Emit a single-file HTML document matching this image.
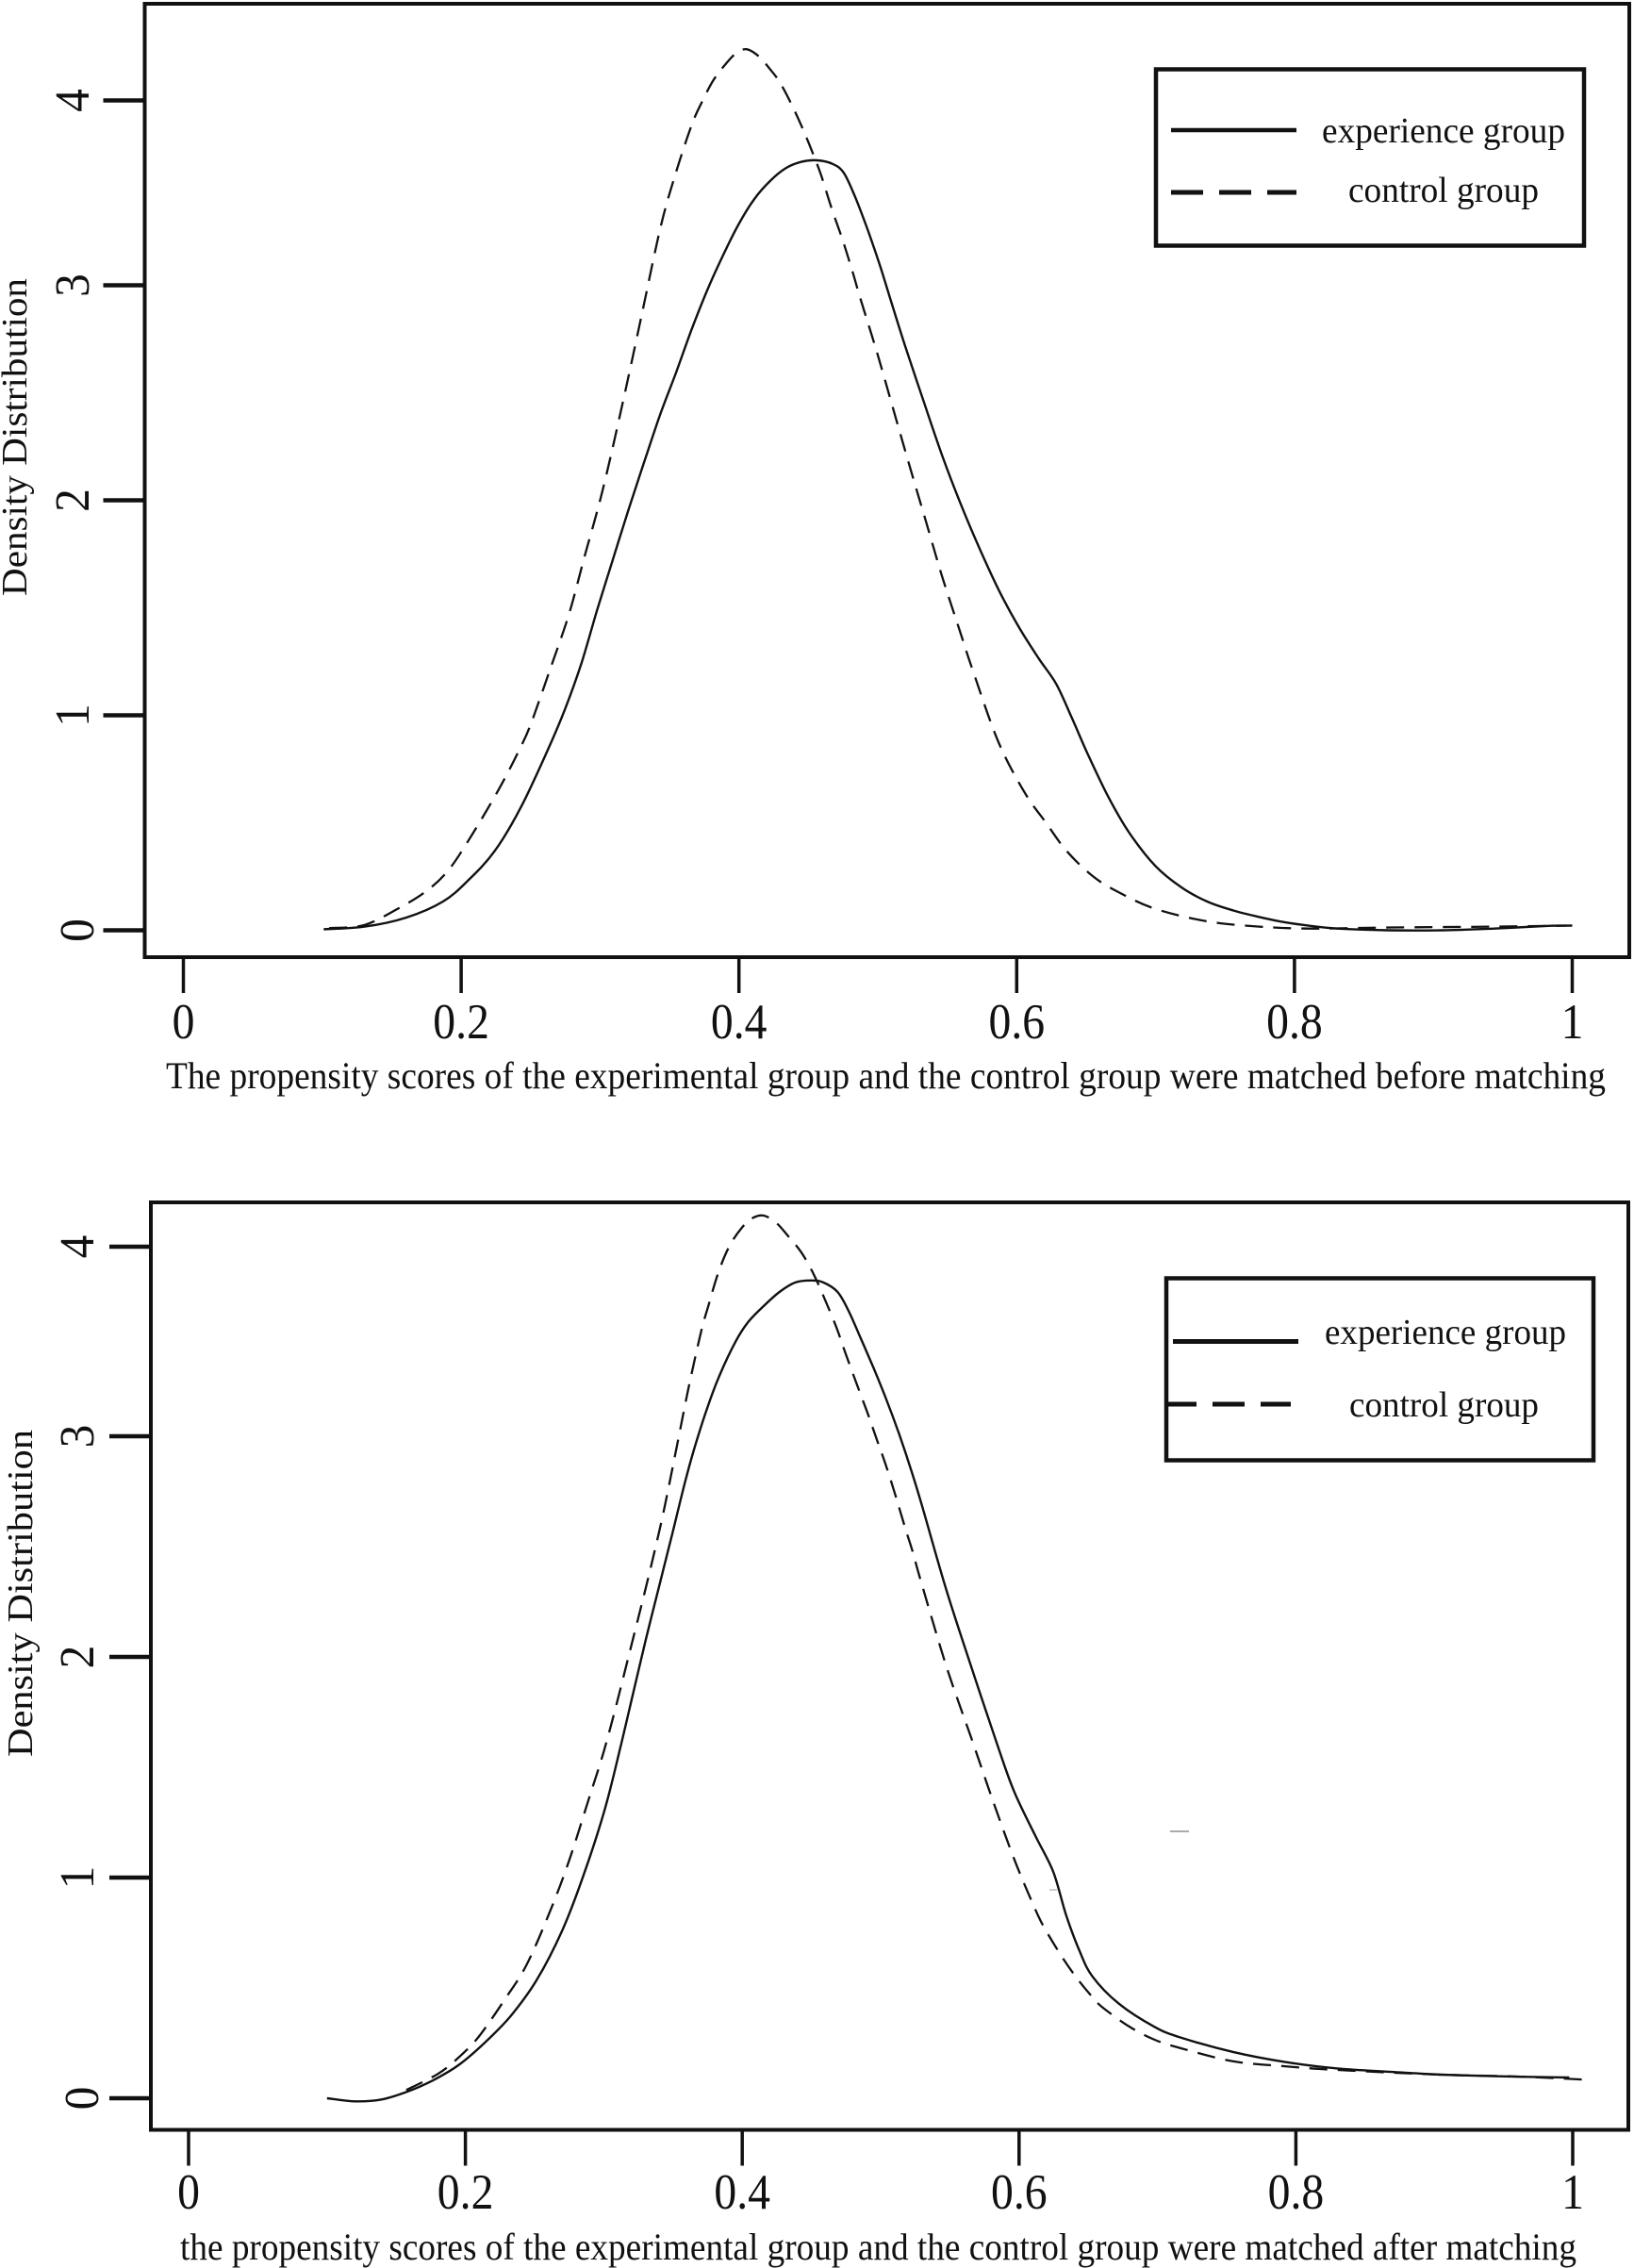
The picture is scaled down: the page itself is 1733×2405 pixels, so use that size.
<!DOCTYPE html>
<html lang="en">
<head>
<meta charset="utf-8">
<title>Propensity score density before and after matching</title>
<style>
  html, body { margin: 0; padding: 0; background: #fff; }
  svg { display: block; }
  text { font-family: "Liberation Serif", serif; fill: #111; }
</style>
</head>
<body>
<svg id="figure" xmlns="http://www.w3.org/2000/svg" width="1733" height="2405" viewBox="0 0 1733 2405">
  <rect x="0" y="0" width="1733" height="2405" fill="#fff"/>

  <g>
    <rect x="1226" y="73.5" width="454" height="187" fill="none" stroke="#111" stroke-width="4.5"/>
    <line x1="1242" y1="138" x2="1375" y2="138" stroke="#111" stroke-width="4.5"/>
    <text x="1402" y="151" font-size="38" textLength="258" lengthAdjust="spacingAndGlyphs">experience group</text>
    <line x1="1242" y1="204" x2="1375" y2="204" stroke="#111" stroke-width="5" stroke-dasharray="34 17"/>
    <text x="1430" y="214" font-size="38" textLength="202" lengthAdjust="spacingAndGlyphs">control group</text>
  </g>

  <g>
    <rect x="1237" y="1355.5" width="453" height="193" fill="none" stroke="#111" stroke-width="4.5"/>
    <line x1="1244" y1="1422.5" x2="1377" y2="1422.5" stroke="#111" stroke-width="5"/>
    <text x="1405" y="1425" font-size="38" textLength="256" lengthAdjust="spacingAndGlyphs">experience group</text>
    <line x1="1235" y1="1489" x2="1369" y2="1489" stroke="#111" stroke-width="5" stroke-dasharray="34 17"/>
    <text x="1431" y="1502" font-size="38" textLength="201" lengthAdjust="spacingAndGlyphs">control group</text>
  </g>

  <text transform="translate(28,632) rotate(-90)" font-size="38" textLength="337" lengthAdjust="spacingAndGlyphs">Density Distribution</text>
  <text x="176" y="1154" font-size="40" textLength="1527" lengthAdjust="spacingAndGlyphs">The propensity scores of the experimental group and the control group were matched before matching</text>

  <text transform="translate(34,1863) rotate(-90)" font-size="38" textLength="347" lengthAdjust="spacingAndGlyphs">Density Distribution</text>
  <text x="191" y="2396" font-size="40" textLength="1481" lengthAdjust="spacingAndGlyphs">the propensity scores of the experimental group and the control group were matched after matching</text>

  <line x1="1241" y1="1942" x2="1261" y2="1942" stroke="#aaa" stroke-width="2"/>
  <line x1="1113" y1="2004" x2="1121" y2="2004" stroke="#bbb" stroke-width="1.5"/>
</svg>

<script>
const xTickValues = [0, 0.2, 0.4, 0.6, 0.8, 1];
const xTickLabels = ["0", "0.2", "0.4", "0.6", "0.8", "1"];
const yTickValues = [0, 1, 2, 3, 4];
const yTickLabels = ["0", "1", "2", "3", "4"];

const beforeExperienceX = [.101,.1305,.1605,.187,.2055,.2243,.243,.2629,.2753,.2866,.2979,.3092,.3206,.3318,.3432,.3545,.3658,.3771,.3885,.3997,.4111,.4224,.4337,.445,.4563,.4676,.4755,.4835,.4925,.5016,.5107,.5197,.5333,.5468,.5604,.574,.5875,.6012,.6159,.6285,.6396,.651,.666,.681,.6997,.7185,.737,.756,.7747,.7935,.812,.831,.8685,.906,.9435,.981,1.0];
const beforeExperienceY = [.005,.017,.059,.134,.235,.37,.572,.847,1.037,1.242,1.49,1.724,1.958,2.178,2.397,2.59,2.792,2.976,3.161,3.329,3.467,3.564,3.633,3.668,3.676,3.656,3.608,3.481,3.304,3.105,2.901,2.717,2.454,2.2,1.971,1.765,1.577,1.414,1.264,1.145,.99,.822,.62,.454,.3,.2,.134,.092,.062,.037,.02,.008,0,0,.008,.02,.022];

const beforeControlX = [.105,.1305,.1568,.1755,.1905,.2055,.2266,.2413,.25,.264,.2775,.2889,.3013,.3149,.3296,.3432,.3534,.3658,.3737,.3817,.3907,.3975,.4054,.4145,.4224,.4292,.4371,.445,.4507,.4586,.4665,.4744,.4812,.4869,.4993,.5107,.5224,.5344,.5464,.5593,.5684,.587,.606,.6208,.6358,.6547,.6734,.6997,.737,.7747,.812,.8685,.9435,.996];
const beforeControlY = [.01,.025,.109,.185,.277,.42,.65,.832,.957,1.213,1.468,1.739,2.032,2.411,2.85,3.302,3.58,3.863,3.997,4.11,4.199,4.252,4.277,4.237,4.169,4.101,3.991,3.863,3.761,3.608,3.421,3.251,3.089,2.95,2.69,2.433,2.17,1.907,1.644,1.388,1.208,.873,.638,.503,.37,.252,.177,.1,.042,.017,.008,.013,.017,.022];

const afterExperienceX = [.1,.1197,.1385,.1573,.1762,.195,.2137,.2326,.2514,.2702,.2853,.3003,.3116,.321,.3304,.3406,.3497,.3588,.3656,.3747,.3837,.3951,.4042,.4155,.4269,.4382,.4496,.4587,.4689,.4768,.4859,.495,.5041,.5132,.5223,.5302,.5477,.5665,.5854,.5967,.6117,.6247,.634,.6437,.653,.672,.698,.7173,.755,.7923,.83,.8677,.9053,.943,.9975];
const afterExperienceY = [0,-.014,-.007,.028,.08,.15,.25,.372,.535,.764,1.01,1.3,1.58,1.83,2.08,2.336,2.564,2.795,2.949,3.149,3.323,3.498,3.602,3.687,3.761,3.811,3.822,3.811,3.761,3.662,3.512,3.358,3.194,3.015,2.842,2.679,2.299,1.936,1.581,1.386,1.19,1.026,.83,.667,.552,.429,.323,.274,.209,.164,.135,.12,.107,.1,.094];

const afterControlX = [.1573,.18,.195,.21,.229,.2438,.259,.274,.289,.3022,.319,.3326,.3429,.352,.361,.3701,.3758,.3826,.3905,.3997,.4075,.4155,.4246,.4337,.4428,.4518,.4598,.4678,.4746,.4825,.4905,.4973,.5041,.5109,.5177,.5234,.5291,.5477,.5665,.5817,.5967,.6097,.6176,.6306,.6417,.6535,.6607,.6795,.698,.7173,.755,.7923,.83,.9053,.962,1.0066];
const afterControlY = [.037,.11,.184,.282,.453,.6,.814,1.06,1.354,1.62,2.03,2.372,2.65,2.93,3.247,3.546,3.695,3.861,4.0,4.1,4.151,4.164,4.126,4.051,3.969,3.852,3.72,3.579,3.438,3.28,3.123,2.984,2.863,2.728,2.585,2.471,2.343,1.953,1.615,1.338,1.08,.885,.78,.645,.545,.455,.41,.325,.265,.226,.167,.145,.128,.107,.098,.085];

const SVG_NS = "http://www.w3.org/2000/svg";
const figure = document.getElementById("figure");

function makeXScale(origin, unit) {
  return function (v) { return origin + unit * v; };
}

// The printed y axis is compressed between 3 and 4, so the scale has two segments.
function makeYScale(origin, unit, upperUnit) {
  return function (v) {
    return v <= 3 ? origin - unit * v : origin - 3 * unit - upperUnit * (v - 3);
  };
}

function smoothPath(xs, ys, sx, sy) {
  const p = xs.map(function (x, i) { return [sx(x), sy(ys[i])]; });
  let d = "M" + p[0][0].toFixed(1) + " " + p[0][1].toFixed(1);
  for (let i = 0; i < p.length - 1; i++) {
    const a = p[Math.max(i - 1, 0)], b = p[i], c = p[i + 1], e = p[Math.min(i + 2, p.length - 1)];
    const c1x = b[0] + (c[0] - a[0]) / 6, c1y = b[1] + (c[1] - a[1]) / 6;
    const c2x = c[0] - (e[0] - b[0]) / 6, c2y = c[1] - (e[1] - b[1]) / 6;
    d += "C" + c1x.toFixed(1) + " " + c1y.toFixed(1) + " " + c2x.toFixed(1) + " " + c2y.toFixed(1) + " " + c[0].toFixed(1) + " " + c[1].toFixed(1);
  }
  return d;
}

function drawPanel(cfg) {
  const sx = makeXScale(cfg.xOrigin, cfg.xUnit);
  const sy = makeYScale(cfg.yOrigin, cfg.yUnit, cfg.yUpperUnit);

  const frame = document.createElementNS(SVG_NS, "rect");
  
  
  frame.setAttribute("x", cfg.left);
  frame.setAttribute("y", cfg.top);
  frame.setAttribute("width", cfg.right - cfg.left);
  frame.setAttribute("height", cfg.bottom - cfg.top);
  frame.setAttribute("fill", "none");
  frame.setAttribute("stroke", "#111");
  frame.setAttribute("stroke-width", "4");
  figure.appendChild(frame);

  xTickValues.forEach(function (v, i) {
    const tick = document.createElementNS(SVG_NS, "line");
    
    
    tick.setAttribute("x1", sx(v));
    tick.setAttribute("x2", sx(v));
    tick.setAttribute("y1", cfg.bottom);
    tick.setAttribute("y2", cfg.bottom + 38);
    tick.setAttribute("stroke", "#111");
    tick.setAttribute("stroke-width", "3.5");
    figure.appendChild(tick);

    const label = document.createElementNS(SVG_NS, "text");
    
    
    label.setAttribute("transform", "translate(" + sx(v) + "," + cfg.xLabelBase + ") scale(0.9,1)");
    label.setAttribute("text-anchor", "middle");
    label.setAttribute("font-size", "53");
    label.textContent = xTickLabels[i];
    figure.appendChild(label);
  });

  yTickValues.forEach(function (v, i) {
    const tick = document.createElementNS(SVG_NS, "line");
    
    
    tick.setAttribute("x1", cfg.left - 44);
    tick.setAttribute("x2", cfg.left);
    tick.setAttribute("y1", sy(v));
    tick.setAttribute("y2", sy(v));
    tick.setAttribute("stroke", "#111");
    tick.setAttribute("stroke-width", "4.5");
    figure.appendChild(tick);

    const label = document.createElementNS(SVG_NS, "text");
    
    
    const baseX = cfg.yLabelBase + (v === 0 ? 5 : 0);
    label.setAttribute("transform", "translate(" + baseX + "," + sy(v) + ") rotate(-90) scale(0.95,1)");
    label.setAttribute("text-anchor", "middle");
    label.setAttribute("font-size", "52");
    label.textContent = yTickLabels[i];
    figure.appendChild(label);
  });

  const control = document.createElementNS(SVG_NS, "path");
  
  
  control.setAttribute("d", smoothPath(cfg.controlX, cfg.controlY, sx, sy));
  control.setAttribute("fill", "none");
  control.setAttribute("stroke", "#111");
  control.setAttribute("stroke-width", "2.3");
  control.setAttribute("stroke-dasharray", "19 11");
  figure.appendChild(control);

  const experience = document.createElementNS(SVG_NS, "path");
  
  
  experience.setAttribute("d", smoothPath(cfg.experienceX, cfg.experienceY, sx, sy));
  experience.setAttribute("fill", "none");
  experience.setAttribute("stroke", "#111");
  experience.setAttribute("stroke-width", "2.4");
  figure.appendChild(experience);
}

drawPanel({
  left: 153.5, right: 1728, top: 4, bottom: 1015,
  xOrigin: 194.5, xUnit: 1473,
  yOrigin: 986.5, yUnit: 228, yUpperUnit: 196,
  xLabelBase: 1101, yLabelBase: 94,
  experienceX: beforeExperienceX, experienceY: beforeExperienceY,
  controlX: beforeControlX, controlY: beforeControlY
});

drawPanel({
  left: 160, right: 1727, top: 1275, bottom: 2258.5,
  xOrigin: 200, xUnit: 1468,
  yOrigin: 2225, yUnit: 234, yUpperUnit: 201,
  xLabelBase: 2342, yLabelBase: 99,
  experienceX: afterExperienceX, experienceY: afterExperienceY,
  controlX: afterControlX, controlY: afterControlY
});
</script>
</body>
</html>
